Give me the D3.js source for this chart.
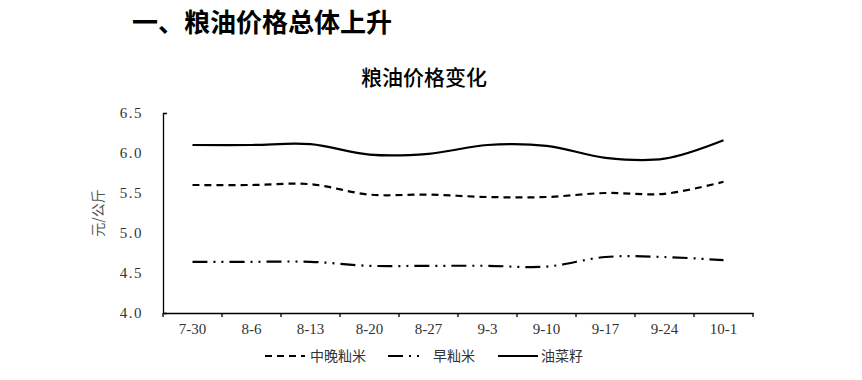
<!DOCTYPE html>
<html>
<head>
<meta charset="utf-8">
<script src="https://cdn.jsdelivr.net/npm/d3@7"></script>
<style>
  body { margin: 0; background: #fff; }
  svg { display: block; }
</style>
</head>
<body>
<div id="chart"></div>
<script>
var dates = ['7-30', '8-6', '8-13', '8-20', '8-27', '9-3', '9-10', '9-17', '9-24', '10-1'];
var midLateRice = [5.60, 5.60, 5.61, 5.48, 5.48, 5.45, 5.45, 5.50, 5.49, 5.64];
var earlyRice = [4.64, 4.64, 4.64, 4.59, 4.59, 4.59, 4.58, 4.70, 4.70, 4.66];
var rapeseed = [6.10, 6.10, 6.11, 5.98, 5.99, 6.10, 6.09, 5.94, 5.93, 6.16];
var yTicks = [4.0, 4.5, 5.0, 5.5, 6.0, 6.5];

var series = [
    { name: '中晚籼米', values: midLateRice, dash: '7,5' },
    { name: '早籼米', values: earlyRice, dash: '15,6,2,6,2,6' },
    { name: '油菜籽', values: rapeseed, dash: null }
];

var width = 862, height = 380;
var plotLeft = 163, plotRight = 753, plotTop = 113, plotBottom = 313;

var svg = d3.select('#chart')
    .append('svg')
    .attr('width', width)
    .attr('height', height);

// page heading
svg.append('text')
    .attr('x', 132)
    .attr('y', 32)
    .attr('font-family', 'Noto Sans CJK SC')
    .attr('font-weight', 'bold')
    .attr('font-size', 26)
    .attr('fill', '#000')
    .text('一、粮油价格总体上升');

// chart title
svg.append('text')
    .attr('x', 424)
    .attr('y', 85)
    .attr('text-anchor', 'middle')
    .attr('font-family', 'Noto Sans CJK SC')
    .attr('font-weight', 500)
    .attr('font-size', 21)
    .attr('fill', '#000')
    .text('粮油价格变化');

var x = d3.scaleBand()
    .domain(dates)
    .range([plotLeft, plotRight]);

var y = d3.scaleLinear()
    .domain([4.0, 6.5])
    .range([plotBottom, plotTop]);

// y axis
var yAxis = svg.append('g')
    .attr('transform', 'translate(' + plotLeft + ',0)')
    .call(d3.axisLeft(y)
        .tickValues(yTicks)
        .tickFormat(d3.format('.1f'))
        .tickSizeInner(0)
        .tickSizeOuter(-4)
        .tickPadding(20));
yAxis.select('.domain').attr('stroke', '#000').attr('stroke-width', 1.3);
yAxis.selectAll('text')
    .attr('font-family', 'Liberation Serif')
    .attr('font-size', 15)
    .attr('letter-spacing', 1.5)
    .attr('fill', '#333');

// x axis: labels in the middle of each band, ticks at the band edges
var xAxis = svg.append('g')
    .attr('transform', 'translate(0,' + plotBottom + ')')
    .call(d3.axisBottom(x).tickSize(0).tickPadding(10));
xAxis.select('.domain').attr('stroke', '#000').attr('stroke-width', 1.3);
xAxis.selectAll('text')
    .attr('font-family', 'Liberation Serif')
    .attr('font-size', 15)
    .attr('fill', '#333');
xAxis.selectAll('.edge')
    .data(dates.concat(['end']))
    .enter()
    .append('line')
    .attr('class', 'edge')
    .attr('x1', function(d) { return d === 'end' ? x.range()[1] : x(d); })
    .attr('x2', function(d) { return d === 'end' ? x.range()[1] : x(d); })
    .attr('y1', 0)
    .attr('y2', 4)
    .attr('stroke', '#000')
    .attr('stroke-width', 1.3);

// y axis label
svg.append('text')
    .attr('transform', 'translate(103,213) rotate(-90)')
    .attr('text-anchor', 'middle')
    .attr('font-family', 'Noto Sans CJK SC')
    .attr('font-size', 14)
    .attr('fill', '#555')
    .text('元/公斤');

// lines
var line = d3.line()
    .x(function(d, i) { return x(dates[i]) + x.bandwidth() / 2; })
    .y(function(d) { return y(d); })
    .curve(d3.curveCardinal);

svg.selectAll('.series')
    .data(series)
    .enter()
    .append('path')
    .attr('class', 'series')
    .attr('d', function(d) { return line(d.values); })
    .attr('fill', 'none')
    .attr('stroke', '#000')
    .attr('stroke-width', 2.2)
    .attr('stroke-dasharray', function(d) { return d.dash; });

// legend
var legendX = [265, 388, 498];
var legend = svg.selectAll('.legend')
    .data(series)
    .enter()
    .append('g')
    .attr('class', 'legend')
    .attr('transform', function(d, i) { return 'translate(' + legendX[i] + ',356)'; });

legend.append('line')
    .attr('x1', 0)
    .attr('x2', function(d, i) { return i === 1 ? 34 : 40; })
    .attr('y1', 0)
    .attr('y2', 0)
    .attr('stroke', '#000')
    .attr('stroke-width', 2.2)
    .attr('stroke-dasharray', function(d) { return d.dash; });

legend.append('text')
    .attr('x', function(d, i) { return i === 2 ? 43 : 45; })
    .attr('y', 5)
    .attr('font-family', 'Noto Sans CJK SC')
    .attr('font-size', 14)
    .attr('fill', '#333')
    .text(function(d) { return d.name; });
</script>
</body>
</html>
